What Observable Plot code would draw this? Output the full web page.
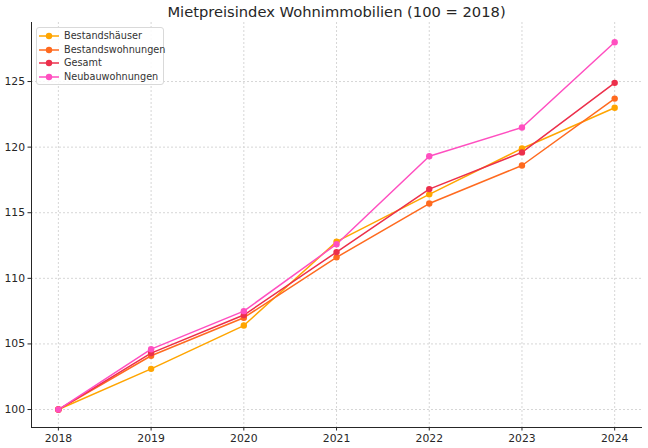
<!DOCTYPE html>
<html><head><meta charset="utf-8">
<script src="https://cdn.jsdelivr.net/npm/d3@7"></script>
<script src="https://cdn.jsdelivr.net/npm/@observablehq/plot@0.6"></script>
<style>
body{margin:0;background:#fff;font-family:"DejaVu Sans",sans-serif;}
#wrap{position:relative;width:648px;height:448px;}
#title{position:absolute;left:31px;width:611px;top:3px;text-align:center;font-size:14.7px;color:#262626;}
#legend{position:absolute;left:36px;top:27px;width:126px;height:56px;border:1px solid #d9d9d9;border-radius:3px;background:rgba(255,255,255,0.85);font-size:9.7px;color:#333;}
.row{position:absolute;left:0;height:14px;}
.row svg{position:absolute;left:2px;top:0;}
.row span{position:absolute;left:27px;top:0;line-height:14px;white-space:nowrap;}
</style></head>
<body>
<div id="wrap"><div id="title">Mietpreisindex Wohnimmobilien (100 = 2018)</div><div id="legend"></div></div>
<script>
const years = [2018, 2019, 2020, 2021, 2022, 2023, 2024];
const seriesNames = ["Bestandshäuser", "Bestandswohnungen", "Gesamt", "Neubauwohnungen"];
const bestandshaeuser = [100, 103.1, 106.4, 112.8, 116.4, 119.9, 123.0];
const bestandswohnungen = [100, 104.1, 107.0, 111.6, 115.7, 118.6, 123.7];
const gesamt = [100, 104.3, 107.2, 112.0, 116.8, 119.6, 124.9];
const neubauwohnungen = [100, 104.6, 107.5, 112.6, 119.3, 121.5, 128.0];
const colors = ["#ffa500", "#ff6a1f", "#ec2f4b", "#ff4fc0"];
const yTicks = [100, 105, 110, 115, 120, 125];

const seriesValues = [bestandshaeuser, bestandswohnungen, gesamt, neubauwohnungen];
const data = [];
seriesNames.forEach((s, i) => years.forEach((y, j) => data.push({series: s, year: y, value: seriesValues[i][j]})));

const chart = Plot.plot({
  width: 648, height: 448,
  marginTop: 22, marginBottom: 21, marginLeft: 31, marginRight: 6,
  style: {fontFamily: "DejaVu Sans, sans-serif", fontSize: "10.8px", color: "#262626", background: "transparent"},
  x: {domain: [2017.71, 2024.3], label: null},
  y: {domain: [98.63, 129.5], label: null},
  color: {domain: seriesNames, range: colors},
  marks: [
    Plot.gridX(years, {stroke: "#d6d6d6", strokeOpacity: 1, strokeDasharray: "2,2"}),
    Plot.gridY(yTicks, {stroke: "#d6d6d6", strokeOpacity: 1, strokeDasharray: "2,2"}),
    Plot.line(data, {x: "year", y: "value", z: "series", stroke: "series", strokeWidth: 1.5}),
    Plot.dot(data, {x: "year", y: "value", fill: "series", r: 3.2}),
    Plot.axisX({ticks: years, tickFormat: d => String(d), tickSize: 3.5, tickPadding: 3.5, fontSize: 10.8, label: null}),
    Plot.axisY({ticks: yTicks, tickSize: 3.5, tickPadding: 3, fontSize: 10.8, label: null}),
    Plot.ruleX([2017.71], {stroke: "#262626", strokeWidth: 1}),
    Plot.ruleY([98.63], {stroke: "#262626", strokeWidth: 1})
  ]
});
chart.style.position = "absolute";
chart.style.left = "0"; chart.style.top = "0";
const wrap = document.getElementById("wrap");
wrap.insertBefore(chart, wrap.firstChild);

const leg = document.getElementById("legend");
seriesNames.forEach((s, i) => {
  const row = document.createElement("div");
  row.className = "row";
  row.style.top = (1 + i * 13.6) + "px";
  row.innerHTML = `<svg width="20" height="14"><line x1="0" x2="20" y1="7" y2="7" stroke="${colors[i]}" stroke-width="1.5"/><circle cx="10" cy="7" r="3.2" fill="${colors[i]}"/></svg><span>${s}</span>`;
  leg.appendChild(row);
});
</script>
</body></html>
